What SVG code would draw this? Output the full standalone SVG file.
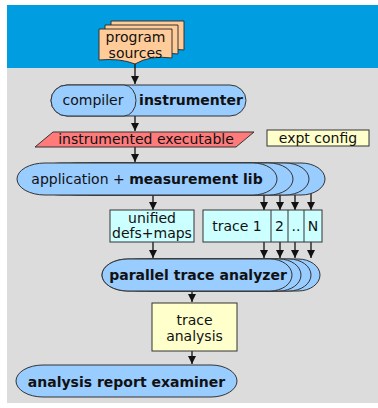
<svg xmlns="http://www.w3.org/2000/svg" width="378" height="408" viewBox="0 0 378 408">
<style>
text{font-family:"DejaVu Sans",Verdana,sans-serif;font-size:14px;fill:#111;text-anchor:middle}
.b{font-weight:bold}
.ln{stroke:#111;stroke-width:1.3;fill:none}
.blob{fill:#99ccff;stroke:#333;stroke-width:1}
.doc{fill:#ffcc99;stroke:#333;stroke-width:1}
.yel{fill:#ffffcc;stroke:#333;stroke-width:1}
.cyan{fill:#ccffff;stroke:#333;stroke-width:1}
.div{stroke:#333;stroke-width:1}
</style>
<defs>
<marker id="ah" markerUnits="userSpaceOnUse" markerWidth="9" markerHeight="9" refX="8" refY="4.5" orient="auto">
<path d="M0,0.5 L8,4.5 L0,8.5 Z" fill="#111"/>
</marker>
</defs>
<rect x="0" y="0" width="378" height="408" fill="#ffffff"/>
<rect x="7" y="5" width="371" height="63" fill="#009ee0"/>
<rect x="7" y="68" width="371" height="335" fill="#dcdcdc"/>

<g id="connectors" class="ln" marker-end="url(#ah)">
<line x1="135" y1="62" x2="135" y2="84"/>
<line x1="135" y1="116" x2="135" y2="131"/>
<line x1="135" y1="147" x2="135" y2="162"/>
<line x1="153" y1="195" x2="153" y2="210"/>
<line x1="264" y1="192" x2="264" y2="210"/>
<line x1="280" y1="192" x2="280" y2="210"/>
<line x1="295" y1="192" x2="295" y2="210"/>
<line x1="311" y1="190" x2="311" y2="210"/>
<line x1="153" y1="242" x2="153" y2="258"/>
<line x1="264" y1="242" x2="264" y2="258"/>
<line x1="280" y1="242" x2="280" y2="258"/>
<line x1="295" y1="242" x2="295" y2="258"/>
<line x1="311" y1="242" x2="311" y2="258"/>
<line x1="192" y1="291" x2="192" y2="302"/>
<line x1="192" y1="351" x2="192" y2="364"/>
</g>

<g id="program-sources">
<path class="doc" d="M111,21 H184 V50 Q162,47 147,56 Q132,50 111,52 Z"/>
<path class="doc" d="M105,25 H178 V54 Q156,51 141,60 Q126,54 105,56 Z"/>
<path class="doc" d="M99,29 H172 V58 Q150,55 135,64 Q120,58 99,60 Z"/>
<text x="135.5" y="42">program</text>
<text x="135.5" y="58">sources</text>
</g>

<g id="compiler-instrumenter">
<path class="blob" d="M67,85 H230 A16,15.5 0 0 1 230,116 H67 A16,15.5 0 0 1 67,85 Z"/>
<path class="blob" d="M67,85 H124 A12,15.5 0 0 1 124,116 H67 A16,15.5 0 0 1 67,85 Z"/>
<text x="93" y="105">compiler</text>
<text class="b" x="191" y="105">instrumenter</text>
</g>

<g id="instrumented-executable">
<path d="M53,132 H254 L236,147 H35 Z" fill="#ff7b7b" stroke="#333" stroke-width="1"/>
<text x="146" y="144">instrumented executable</text>
</g>

<g id="expt-config">
<rect class="yel" x="267" y="130" width="102" height="16"/>
<text x="318" y="143">expt config</text>
</g>

<g id="application">
<path class="blob" d="M93,163 H301 A24,16 0 0 1 301,195 H93 A28,16 0 0 1 93,163 Z"/>
<path class="blob" d="M77,163 H285 A24,16 0 0 1 285,195 H77 A28,16 0 0 1 77,163 Z"/>
<path class="blob" d="M61,163 H269 A24,16 0 0 1 269,195 H61 A28,16 0 0 1 61,163 Z"/>
<path class="blob" d="M45,163 H253 A24,16 0 0 1 253,195 H45 A28,16 0 0 1 45,163 Z"/>
<text x="147" y="184">application + <tspan class="b">measurement lib</tspan></text>
</g>

<g id="unified-defs">
<rect class="cyan" x="110" y="210" width="84" height="32"/>
<text x="152" y="223">unified</text>
<text x="152" y="238">defs+maps</text>
</g>

<g id="traces">
<rect class="cyan" x="203" y="210" width="119" height="32"/>
<line class="div" x1="271" y1="210" x2="271" y2="242"/>
<line class="div" x1="288" y1="210" x2="288" y2="242"/>
<line class="div" x1="304" y1="210" x2="304" y2="242"/>
<text x="237" y="231">trace 1</text>
<text x="279.5" y="231">2</text>
<text x="296" y="231">..</text>
<text x="313" y="231">N</text>
</g>

<g id="parallel-trace-analyzer">
<path class="blob" d="M152,259 H298 A22,16 0 0 1 298,291 H152 A26,16 0 0 1 152,259 Z"/>
<path class="blob" d="M140,259 H289 A22,16 0 0 1 289,291 H140 A26,16 0 0 1 140,259 Z"/>
<path class="blob" d="M128,259 H279 A22,16 0 0 1 279,291 H128 A26,16 0 0 1 128,259 Z"/>
<path class="blob" d="M128,259 H270 A22,16 0 0 1 270,291 H128 A26,16 0 0 1 128,259 Z"/>
<text class="b" x="198" y="280">parallel trace analyzer</text>
</g>

<g id="trace-analysis">
<rect class="yel" x="152" y="303" width="85" height="48"/>
<text x="194.5" y="325">trace</text>
<text x="194.5" y="341">analysis</text>
</g>

<g id="analysis-report-examiner">
<path class="blob" d="M43,365 H211 A26,16 0 0 1 211,397 H43 A27,16 0 0 1 43,365 Z"/>
<text class="b" x="126.5" y="387">analysis report examiner</text>
</g>
</svg>
